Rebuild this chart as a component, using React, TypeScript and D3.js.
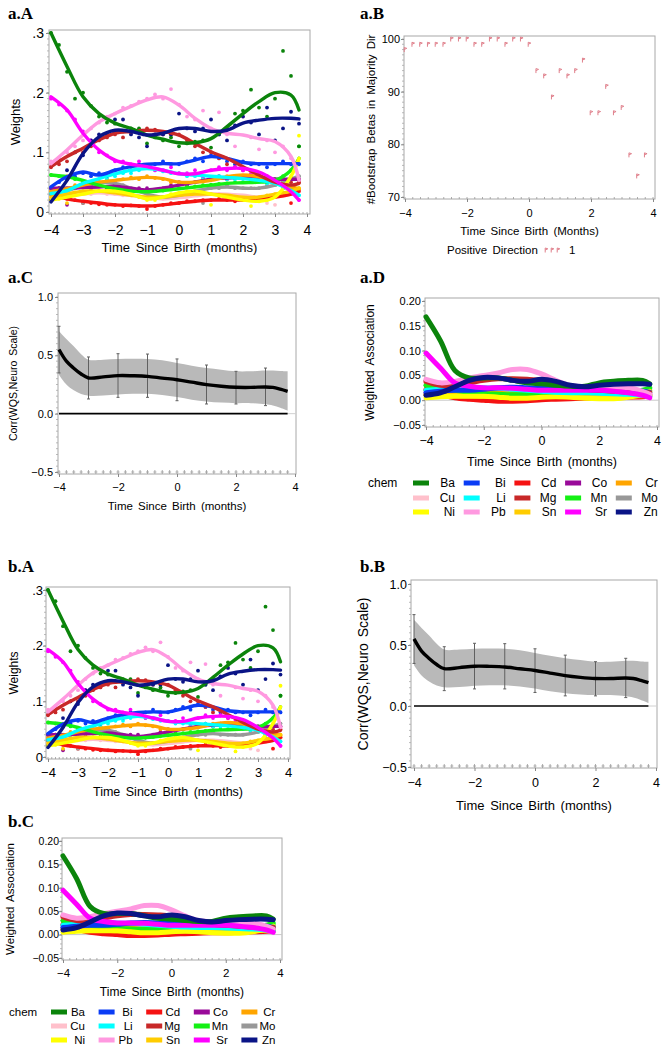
import React, { useEffect, useRef } from 'react';
import * as d3 from 'd3';

// chemicals, in legend order
const chems = ['Ba', 'Bi', 'Cd', 'Co', 'Cr', 'Cu', 'Li', 'Mg', 'Mn', 'Mo', 'Ni', 'Pb', 'Sn', 'Sr', 'Zn'];
const chemColors = ['#0b840b', '#0a3cf5', '#f51212', '#990a99', '#ffa500', '#ffc0cb', '#00ffff', '#c82828', '#14f014', '#989898', '#ffff00', '#ff99e0', '#ffcc00', '#ff00ff', '#0a1486'];
const drawOrder = ['Cu', 'Cd', 'Mo', 'Co', 'Cr', 'Sn', 'Mn', 'Ni', 'Li', 'Bi', 'Mg', 'Pb', 'Sr', 'Ba', 'Zn'];

// smooth-curve knots (months)
const knotTimes = [-4, -3.5, -3, -2.5, -2, -1.5, -1, -0.5, 0, 0.5, 1, 1.5, 2, 2.5, 3, 3.5, 3.75];
// sample times for the dots
const dotTimes = d3.range(-4, 4, 0.25);

const weightCurves = [
  [0.30, 0.244, 0.193, 0.165, 0.149, 0.14, 0.129, 0.122, 0.116, 0.116, 0.123, 0.143, 0.165, 0.185, 0.2, 0.196, 0.171],
  [0.042, 0.059, 0.067, 0.062, 0.07, 0.076, 0.08, 0.081, 0.081, 0.087, 0.093, 0.09, 0.083, 0.081, 0.081, 0.081, 0.081],
  [0.03, 0.022, 0.018, 0.015, 0.012, 0.011, 0.01, 0.012, 0.015, 0.018, 0.02, 0.02, 0.02, 0.022, 0.025, 0.03, 0.035],
  [0.04, 0.04, 0.041, 0.042, 0.043, 0.04, 0.037, 0.04, 0.045, 0.05, 0.055, 0.057, 0.058, 0.057, 0.055, 0.055, 0.055],
  [0.034, 0.039, 0.045, 0.05, 0.053, 0.056, 0.058, 0.056, 0.05, 0.05, 0.053, 0.059, 0.062, 0.059, 0.05, 0.042, 0.039],
  [0.025, 0.028, 0.03, 0.032, 0.03, 0.028, 0.025, 0.022, 0.024, 0.027, 0.03, 0.03, 0.028, 0.025, 0.025, 0.03, 0.035],
  [0.031, 0.036, 0.048, 0.056, 0.064, 0.07, 0.073, 0.07, 0.064, 0.062, 0.06, 0.058, 0.056, 0.053, 0.048, 0.036, 0.028],
  [0.076, 0.093, 0.107, 0.121, 0.132, 0.135, 0.137, 0.135, 0.129, 0.115, 0.101, 0.09, 0.076, 0.062, 0.05, 0.045, 0.048],
  [0.062, 0.059, 0.053, 0.045, 0.039, 0.035, 0.034, 0.036, 0.039, 0.042, 0.045, 0.048, 0.049, 0.05, 0.053, 0.07, 0.09],
  [0.03, 0.036, 0.044, 0.049, 0.048, 0.04, 0.03, 0.025, 0.028, 0.035, 0.04, 0.042, 0.04, 0.04, 0.045, 0.055, 0.06],
  [0.02, 0.025, 0.03, 0.035, 0.035, 0.03, 0.022, 0.025, 0.032, 0.035, 0.03, 0.025, 0.02, 0.018, 0.025, 0.06, 0.09],
  [0.081, 0.104, 0.129, 0.151, 0.165, 0.177, 0.188, 0.193, 0.179, 0.157, 0.14, 0.132, 0.129, 0.123, 0.118, 0.093, 0.053],
  [0.025, 0.03, 0.035, 0.035, 0.032, 0.028, 0.025, 0.025, 0.028, 0.03, 0.03, 0.028, 0.025, 0.025, 0.03, 0.035, 0.04],
  [0.193, 0.171, 0.132, 0.104, 0.087, 0.08, 0.076, 0.07, 0.064, 0.064, 0.07, 0.073, 0.073, 0.067, 0.053, 0.034, 0.02],
  [0.017, 0.053, 0.098, 0.126, 0.137, 0.135, 0.129, 0.132, 0.14, 0.14, 0.135, 0.137, 0.149, 0.154, 0.157, 0.157, 0.156],
];

const weightDots = [
  [0.30, 0.28, 0.235, 0.19, 0.20, 0.178, 0.16, 0.15, 0.148, 0.135, 0.14, 0.14, 0.115, 0.125, 0.12, 0.125, 0.11, 0.115, 0.118, 0.12, 0.108, 0.13, 0.14, 0.165, 0.17, 0.205, 0.175, 0.16, 0.19, 0.27, 0.228, 0.11],
  [0.04, 0.05, 0.055, 0.06, 0.065, 0.06, 0.065, 0.06, 0.07, 0.075, 0.07, 0.08, 0.075, 0.08, 0.085, 0.08, 0.08, 0.085, 0.09, 0.085, 0.095, 0.09, 0.085, 0.08, 0.085, 0.08, 0.08, 0.075, 0.08, 0.085, 0.08, 0.08],
  [0.03, 0.025, 0.022, 0.02, 0.015, 0.015, 0.013, 0.012, 0.012, 0.01, 0.011, 0.01, 0.005, 0.01, 0.012, 0.015, 0.015, 0.018, 0.018, 0.02, 0.02, 0.022, 0.02, 0.018, 0.02, 0.022, 0.022, 0.025, 0.025, 0.028, 0.015, 0.035],
  [0.04, 0.035, 0.012, 0.04, 0.045, 0.04, 0.045, 0.04, 0.045, 0.04, 0.035, 0.04, 0.04, 0.035, 0.04, 0.045, 0.05, 0.045, 0.05, 0.055, 0.055, 0.06, 0.055, 0.06, 0.058, 0.055, 0.055, 0.06, 0.055, 0.05, 0.055, 0.055],
  [0.035, 0.04, 0.06, 0.045, 0.045, 0.05, 0.05, 0.055, 0.052, 0.055, 0.058, 0.055, 0.06, 0.057, 0.055, 0.05, 0.05, 0.048, 0.05, 0.055, 0.055, 0.058, 0.06, 0.06, 0.06, 0.058, 0.055, 0.05, 0.045, 0.04, 0.04, 0.038],
  [0.025, 0.028, 0.03, 0.03, 0.032, 0.03, 0.033, 0.03, 0.03, 0.028, 0.028, 0.025, 0.025, 0.022, 0.022, 0.024, 0.025, 0.027, 0.028, 0.03, 0.03, 0.03, 0.028, 0.028, 0.025, 0.025, 0.025, 0.015, 0.012, 0.03, 0.035, 0.035],
  [0.03, 0.033, 0.035, 0.04, 0.045, 0.05, 0.05, 0.055, 0.06, 0.065, 0.065, 0.07, 0.075, 0.07, 0.068, 0.065, 0.065, 0.06, 0.06, 0.058, 0.055, 0.06, 0.055, 0.055, 0.05, 0.052, 0.05, 0.048, 0.045, 0.04, 0.03, 0.028],
  [0.075, 0.08, 0.085, 0.1, 0.1, 0.11, 0.12, 0.125, 0.13, 0.125, 0.133, 0.138, 0.14, 0.138, 0.13, 0.13, 0.13, 0.12, 0.11, 0.1, 0.1, 0.09, 0.08, 0.075, 0.07, 0.06, 0.065, 0.055, 0.05, 0.045, 0.05, 0.05],
  [0.062, 0.06, 0.058, 0.055, 0.05, 0.048, 0.045, 0.042, 0.04, 0.038, 0.035, 0.035, 0.033, 0.035, 0.036, 0.038, 0.04, 0.042, 0.043, 0.045, 0.046, 0.047, 0.048, 0.05, 0.05, 0.052, 0.052, 0.055, 0.055, 0.06, 0.07, 0.11],
  [0.03, 0.035, 0.04, 0.04, 0.015, 0.045, 0.05, 0.05, 0.045, 0.045, 0.04, 0.035, 0.03, 0.025, 0.025, 0.028, 0.03, 0.03, 0.035, 0.015, 0.04, 0.04, 0.045, 0.04, 0.04, 0.04, 0.04, 0.045, 0.05, 0.05, 0.055, 0.06],
  [0.02, 0.022, 0.025, 0.028, 0.03, 0.033, 0.035, 0.035, 0.035, 0.032, 0.03, 0.025, 0.02, 0.02, 0.025, 0.03, 0.032, 0.035, 0.035, 0.032, 0.012, 0.028, 0.025, 0.022, 0.02, 0.01, 0.018, 0.02, 0.025, 0.04, 0.06, 0.128],
  [0.085, 0.09, 0.1, 0.11, 0.12, 0.14, 0.15, 0.16, 0.165, 0.175, 0.178, 0.185, 0.19, 0.197, 0.19, 0.206, 0.18, 0.16, 0.155, 0.17, 0.14, 0.167, 0.13, 0.11, 0.16, 0.125, 0.105, 0.12, 0.1, 0.11, 0.09, 0.055],
  [0.025, 0.028, 0.015, 0.033, 0.035, 0.035, 0.035, 0.033, 0.032, 0.03, 0.028, 0.026, 0.025, 0.025, 0.025, 0.026, 0.028, 0.03, 0.03, 0.03, 0.03, 0.028, 0.027, 0.025, 0.025, 0.025, 0.025, 0.028, 0.03, 0.033, 0.035, 0.04],
  [0.19, 0.18, 0.17, 0.155, 0.135, 0.12, 0.1, 0.095, 0.085, 0.085, 0.08, 0.085, 0.075, 0.07, 0.07, 0.075, 0.065, 0.065, 0.07, 0.06, 0.07, 0.075, 0.07, 0.075, 0.07, 0.065, 0.06, 0.055, 0.05, 0.04, 0.03, 0.02],
  [0.02, 0.04, 0.07, 0.1, 0.095, 0.12, 0.13, 0.13, 0.155, 0.155, 0.13, 0.125, 0.11, 0.13, 0.13, 0.13, 0.165, 0.14, 0.135, 0.14, 0.155, 0.13, 0.12, 0.145, 0.16, 0.15, 0.13, 0.175, 0.12, 0.14, 0.168, 0.148],
];

const assocCurves = [
  [0.168, 0.12, 0.06, 0.045, 0.045, 0.045, 0.04, 0.035, 0.033, 0.03, 0.028, 0.028, 0.035, 0.038, 0.04, 0.04, 0.033],
  [0.015, 0.018, 0.02, 0.02, 0.022, 0.025, 0.026, 0.025, 0.024, 0.023, 0.023, 0.022, 0.02, 0.02, 0.02, 0.018, 0.016],
  [0.022, 0.012, 0.005, 0.002, 0.0, -0.002, -0.002, -0.001, 0.001, 0.002, 0.003, 0.004, 0.004, 0.005, 0.006, 0.007, 0.008],
  [0.015, 0.014, 0.013, 0.012, 0.012, 0.011, 0.01, 0.01, 0.011, 0.012, 0.012, 0.012, 0.012, 0.012, 0.012, 0.012, 0.012],
  [0.012, 0.013, 0.014, 0.015, 0.016, 0.016, 0.016, 0.015, 0.014, 0.014, 0.015, 0.015, 0.015, 0.013, 0.012, 0.011, 0.01],
  [0.035, 0.03, 0.028, 0.025, 0.022, 0.02, 0.018, 0.016, 0.015, 0.015, 0.015, 0.015, 0.014, 0.014, 0.013, 0.012, 0.012],
  [0.02, 0.022, 0.025, 0.025, 0.025, 0.024, 0.022, 0.02, 0.018, 0.016, 0.015, 0.015, 0.014, 0.013, 0.012, 0.01, 0.008],
  [0.038, 0.03, 0.03, 0.035, 0.04, 0.043, 0.043, 0.042, 0.04, 0.035, 0.028, 0.022, 0.02, 0.018, 0.016, 0.015, 0.015],
  [0.03, 0.025, 0.02, 0.016, 0.013, 0.012, 0.011, 0.012, 0.013, 0.014, 0.015, 0.016, 0.016, 0.017, 0.018, 0.02, 0.025],
  [0.02, 0.02, 0.022, 0.02, 0.015, 0.012, 0.01, 0.01, 0.011, 0.012, 0.012, 0.012, 0.012, 0.012, 0.013, 0.016, 0.02],
  [0.005, 0.007, 0.008, 0.008, 0.008, 0.006, 0.004, 0.004, 0.006, 0.007, 0.006, 0.004, 0.003, 0.003, 0.006, 0.012, 0.018],
  [0.042, 0.035, 0.038, 0.045, 0.05, 0.055, 0.062, 0.062, 0.053, 0.04, 0.03, 0.027, 0.027, 0.026, 0.025, 0.018, 0.012],
  [0.01, 0.01, 0.009, 0.009, 0.008, 0.008, 0.008, 0.008, 0.008, 0.008, 0.008, 0.008, 0.008, 0.008, 0.009, 0.009, 0.01],
  [0.095, 0.065, 0.035, 0.028, 0.025, 0.025, 0.024, 0.022, 0.02, 0.02, 0.02, 0.02, 0.02, 0.018, 0.015, 0.01, 0.005],
  [0.01, 0.015, 0.027, 0.04, 0.046, 0.045, 0.04, 0.038, 0.042, 0.038, 0.03, 0.027, 0.03, 0.032, 0.033, 0.033, 0.032],
];

// bootstrap betas in majority (positive) direction, one per dotTimes entry
const bootCounts = [98, 99, 99, 99, 99, 99, 100, 100, 100, 99, 99, 100, 100, 99, 100, 100, 99, 94, 93, 89, 94, 93, 94, 96, 86, 86, 91, 86, 87, 78, 74, 78];

// correlation of WQS index with neuro scale
const corrTimes = [-4, -3.75, -3.5, -3.25, -3, -2.5, -2, -1.5, -1, -0.5, 0, 0.5, 1, 1.5, 2, 2.5, 3, 3.25, 3.5, 3.75];
const corrMean = [0.55, 0.45, 0.39, 0.34, 0.306, 0.315, 0.326, 0.325, 0.32, 0.305, 0.291, 0.27, 0.249, 0.235, 0.226, 0.225, 0.229, 0.225, 0.21, 0.191];
const corrUpper = [0.706, 0.64, 0.577, 0.51, 0.463, 0.463, 0.469, 0.471, 0.469, 0.457, 0.434, 0.411, 0.391, 0.377, 0.363, 0.363, 0.37, 0.37, 0.365, 0.363];
const corrLower = [0.334, 0.25, 0.2, 0.168, 0.154, 0.155, 0.165, 0.17, 0.17, 0.16, 0.143, 0.12, 0.105, 0.095, 0.09, 0.09, 0.08, 0.07, 0.05, 0.025];
const errTimes = [-4, -3, -2, -1, 0, 1, 2, 3];
const errHigh = [0.749, 0.486, 0.514, 0.511, 0.469, 0.417, 0.363, 0.391];
const errLow = [0.349, 0.126, 0.14, 0.14, 0.111, 0.083, 0.083, 0.069];

const SANS = "'Liberation Sans', Arial, Helvetica, sans-serif";
const SERIF = "'Liberation Serif', 'Times New Roman', serif";

function panelTitle(svg, text, x, y) {
  svg.append('text').attr('x', x).attr('y', y)
    .attr('font-family', SERIF).attr('font-weight', 'bold').attr('font-size', 17)
    .text(text);
}

function frameBox(g, f) {
  g.append('rect')
    .attr('x', f[0]).attr('y', f[2])
    .attr('width', f[1] - f[0]).attr('height', f[3] - f[2])
    .attr('fill', 'none').attr('stroke', '#a8a8a8');
}

function bottomAxis(g, x, yPos, ticks, fmt, baseline, fs) {
  const a = g.append('g').attr('transform', `translate(0,${yPos})`)
    .call(d3.axisBottom(x).tickValues(ticks).tickSize(3).tickFormat(fmt));
  a.attr('font-family', SANS).attr('font-size', fs);
  a.select('.domain').remove();
  a.selectAll('.tick line').attr('stroke', '#888');
  a.selectAll('.tick text').attr('y', baseline - yPos).attr('dy', null).attr('fill', '#000');
}

function leftAxis(g, y, xPos, ticks, fmt, right, fs) {
  const a = g.append('g').attr('transform', `translate(${xPos},0)`)
    .call(d3.axisLeft(y).tickValues(ticks).tickSize(3).tickFormat(fmt));
  a.attr('font-family', SANS).attr('font-size', fs);
  a.select('.domain').remove();
  a.selectAll('.tick line').attr('stroke', '#888');
  a.selectAll('.tick text').attr('x', right - xPos).attr('fill', '#000');
}

function minorX(g, x, yPos, vals, len) {
  g.selectAll(null).data(vals).enter().append('line')
    .attr('x1', (d) => x(d)).attr('x2', (d) => x(d))
    .attr('y1', yPos).attr('y2', yPos - len)
    .attr('stroke', '#999').attr('stroke-width', 0.8);
}

function minorY(g, y, xPos, vals, len) {
  g.selectAll(null).data(vals).enter().append('line')
    .attr('x1', xPos).attr('x2', xPos - len)
    .attr('y1', (d) => y(d)).attr('y2', (d) => y(d))
    .attr('stroke', '#aaa').attr('stroke-width', 0.8);
}

function titleX(g, text, cx, baseline, fs) {
  g.append('text').attr('x', cx).attr('y', baseline).attr('text-anchor', 'middle')
    .attr('font-family', SANS).attr('font-size', fs).attr('word-spacing', 2).text(text);
}

function titleY(g, text, cx, cy, fs) {
  g.append('text').attr('transform', `translate(${cx},${cy}) rotate(-90)`)
    .attr('text-anchor', 'middle').attr('dy', '0.35em')
    .attr('font-family', SANS).attr('font-size', fs).attr('word-spacing', 2).text(text);
}

function drawWeights(svg, p) {
  const x = d3.scaleLinear().domain([-4, 4]).range(p.xr);
  const y = d3.scaleLinear().domain([0, 0.3]).range(p.yr);
  const g = svg.append('g');
  frameBox(g, p.f);
  minorX(g, x, p.f[3], d3.range(-4, 4.01, 0.125), 2);
  minorY(g, y, p.f[0], d3.range(0, 0.301, 0.01), 2);

  drawOrder.forEach((name) => {
    const i = chems.indexOf(name);
    g.append('g').selectAll('circle').data(weightDots[i]).enter().append('circle')
      .attr('cx', (d, j) => x(dotTimes[j])).attr('cy', (d) => y(d))
      .attr('r', 1.9).attr('fill', chemColors[i]);
  });
  const line = d3.line().x((d, j) => x(knotTimes[j])).y((d) => y(d)).curve(d3.curveCatmullRom.alpha(0.5));
  drawOrder.forEach((name) => {
    const i = chems.indexOf(name);
    g.append('path').attr('d', line(weightCurves[i])).attr('fill', 'none')
      .attr('stroke', chemColors[i]).attr('stroke-width', 3.4).attr('stroke-linecap', 'round');
  });

  bottomAxis(g, x, p.f[3], d3.range(-4, 5, 1), d3.format('d'), p.tickBase, p.tickFs);
  leftAxis(g, y, p.f[0], [0, 0.1, 0.2, 0.3], (d) => (d === 0 ? '0' : '.' + Math.round(d * 10)), p.yRight, p.tickFs);
  titleX(g, 'Time Since Birth (months)', (p.f[0] + p.f[1]) / 2, p.titleBase, p.titleFs);
  titleY(g, 'Weights', p.yTitleX, (p.f[2] + p.f[3]) / 2, p.yTitleFs);
}

function drawAssoc(svg, p) {
  const x = d3.scaleLinear().domain([-4, 4]).range(p.xr);
  const y = d3.scaleLinear().domain([-0.05, 0.2]).range(p.yr);
  const g = svg.append('g');
  frameBox(g, p.f);
  minorX(g, x, p.f[3], d3.range(-4, 4.01, 0.25), 2);
  minorY(g, y, p.f[0], d3.range(-0.05, 0.201, 0.01), 2);
  g.append('line').attr('x1', p.f[0]).attr('x2', p.f[1]).attr('y1', y(0)).attr('y2', y(0))
    .attr('stroke', '#c8c8c8').attr('stroke-width', 1);

  const line = d3.line().x((d, j) => x(knotTimes[j])).y((d) => y(d)).curve(d3.curveCatmullRom.alpha(0.5));
  drawOrder.forEach((name) => {
    const i = chems.indexOf(name);
    g.append('path').attr('d', line(assocCurves[i])).attr('fill', 'none')
      .attr('stroke', chemColors[i]).attr('stroke-width', p.lw).attr('stroke-linecap', 'round');
  });

  bottomAxis(g, x, p.f[3], [-4, -2, 0, 2, 4], d3.format('d'), p.tickBase, p.xTickFs);
  leftAxis(g, y, p.f[0], [-0.05, 0, 0.05, 0.1, 0.15, 0.2], d3.format('.2f'), p.yRight, p.yTickFs);
  titleX(g, 'Time Since Birth (months)', (p.f[0] + p.f[1]) / 2, p.titleBase, p.titleFs);
  titleY(g, 'Weighted Association', p.yTitleX, (p.f[2] + p.f[3]) / 2, p.yTitleFs);

  // legend
  const lg = g.append('g').attr('font-family', SANS).attr('font-size', p.legFs);
  lg.append('text').attr('x', p.leg.chemX).attr('y', p.leg.rows[0] + 4).text('chem');
  chems.forEach((name, i) => {
    const row = Math.floor(i / 5);
    const col = i % 5;
    const cy = p.leg.rows[row];
    lg.append('rect').attr('x', p.leg.swX + col * p.leg.step).attr('y', cy - 2.5)
      .attr('width', 16).attr('height', 5).attr('fill', chemColors[i]);
    lg.append('text').attr('x', p.leg.labR + col * p.leg.step).attr('y', cy + 4)
      .attr('text-anchor', 'end').text(name);
  });
}

function drawCorr(svg, p) {
  const x = d3.scaleLinear().domain([-4, 4]).range(p.xr);
  const y = d3.scaleLinear().domain([-0.5, 1]).range(p.yr);
  const g = svg.append('g');
  frameBox(g, p.f);
  minorY(g, y, p.f[0], d3.range(-0.5, 1.01, 0.05), 2);

  const area = d3.area().x((d, j) => x(corrTimes[j])).y0((d, j) => y(corrLower[j])).y1((d) => y(d))
    .curve(d3.curveCatmullRom.alpha(0.5));
  g.append('path').attr('d', area(corrUpper)).attr('fill', '#b9b9b9');

  g.append('line').attr('x1', x(3.75)).attr('x2', p.f[1]).attr('y1', y(0)).attr('y2', y(0))
    .attr('stroke', '#d0d0d0');
  g.append('line').attr('x1', x(-4)).attr('x2', x(3.75)).attr('y1', y(0)).attr('y2', y(0))
    .attr('stroke', '#000').attr('stroke-width', 1.6);

  errTimes.forEach((t, k) => {
    const cx = x(t);
    g.append('line').attr('x1', cx).attr('x2', cx).attr('y1', y(errLow[k])).attr('y2', y(errHigh[k]))
      .attr('stroke', '#606060').attr('stroke-width', 1);
    [errLow[k], errHigh[k]].forEach((v) => {
      g.append('line').attr('x1', cx - 1.5).attr('x2', cx + 1.5).attr('y1', y(v)).attr('y2', y(v))
        .attr('stroke', '#606060').attr('stroke-width', 1);
    });
  });

  const line = d3.line().x((d, j) => x(corrTimes[j])).y((d) => y(d)).curve(d3.curveCatmullRom.alpha(0.5));
  g.append('path').attr('d', line(corrMean)).attr('fill', 'none').attr('stroke', '#000').attr('stroke-width', 3.4);

  // small inner ticks along the bottom
  const bt = d3.range(-4, 3.76, 0.25);
  minorX(g, x, p.f[3], bt, 4);
  g.selectAll(null).data(bt).enter().append('line')
    .attr('x1', (d) => x(d) - 1.5).attr('x2', (d) => x(d) + 1.5)
    .attr('y1', p.f[3] - 2).attr('y2', p.f[3] - 2)
    .attr('stroke', '#999').attr('stroke-width', 0.8);

  bottomAxis(g, x, p.f[3], [-4, -2, 0, 2, 4], d3.format('d'), p.tickBase, p.tickFs);
  leftAxis(g, y, p.f[0], [-0.5, 0, 0.5, 1], d3.format('.1f'), p.yRight, p.tickFs);
  titleX(g, 'Time Since Birth (months)', (p.f[0] + p.f[1]) / 2, p.titleBase, p.titleFs);
  titleY(g, 'Corr(WQS,Neuro Scale)', p.yTitleX, (p.f[2] + p.f[3]) / 2, p.yTitleFs);
}

function flagMark(g, cx, cy) {
  g.append('path').attr('d', `M${cx - 0.8},${cy + 2.5}L${cx - 0.8},${cy - 2}L${cx + 1.8},${cy - 1.2}L${cx - 0.8},${cy}`)
    .attr('fill', 'none').attr('stroke', '#e0808c').attr('stroke-width', 1);
}

function drawBoot(svg, p) {
  const x = d3.scaleLinear().domain([-4, 4]).range(p.xr);
  const y = d3.scaleLinear().domain([70, 100]).range(p.yr);
  const g = svg.append('g');
  frameBox(g, p.f);
  minorX(g, x, p.f[3], d3.range(-4, 4.01, 0.25), 2);
  minorY(g, y, p.f[0], d3.range(70, 100.1, 1), 2);

  bootCounts.forEach((v, j) => flagMark(g, x(dotTimes[j]), y(v)));

  bottomAxis(g, x, p.f[3], [-4, -2, 0, 2, 4], d3.format('d'), p.tickBase, p.tickFs);
  leftAxis(g, y, p.f[0], [70, 80, 90, 100], d3.format('d'), p.yRight, p.tickFs);
  titleX(g, 'Time Since Birth (Months)', (p.f[0] + p.f[1]) / 2, p.titleBase, p.titleFs);
  titleY(g, '#Bootstrap Betas in Majority Dir', p.yTitleX, (p.f[2] + p.f[3]) / 2 + 2, p.titleFs);

  const lg = g.append('g').attr('font-family', SANS).attr('font-size', p.titleFs);
  lg.append('text').attr('x', 447).attr('y', p.legBase).attr('word-spacing', 2).text('Positive Direction');
  [546, 552, 558].forEach((mx) => flagMark(lg, mx, p.legBase - 4));
  lg.append('text').attr('x', 569).attr('y', p.legBase).text('1');
}

export default function App() {
  const ref = useRef(null);

  useEffect(() => {
    const svg = d3.select(ref.current);
    svg.selectAll('*').remove();

    panelTitle(svg, 'a.A', 8, 19);
    drawWeights(svg, {
      xr: [51, 307], yr: [212, 33], f: [49, 310, 30, 214],
      tickFs: 14, tickBase: 235, titleFs: 13, titleBase: 252,
      yRight: 44, yTitleX: 15, yTitleFs: 13,
    });

    panelTitle(svg, 'a.B', 360, 19);
    drawBoot(svg, {
      xr: [405, 653], yr: [197, 39], f: [404, 655, 36, 199],
      tickFs: 11, tickBase: 217, titleFs: 11.5, titleBase: 235,
      yRight: 400, yTitleX: 371, legBase: 254,
    });

    panelTitle(svg, 'a.C', 8, 283);
    drawCorr(svg, {
      xr: [59, 295], yr: [472, 297], f: [58, 296, 293, 474],
      tickFs: 11, tickBase: 491, titleFs: 11.5, titleBase: 510,
      yRight: 53, yTitleX: 13, yTitleFs: 10.5,
    });

    panelTitle(svg, 'a.D', 360, 283);
    drawAssoc(svg, {
      xr: [426, 657], yr: [425, 301], f: [425, 659, 298, 427],
      xTickFs: 12.5, yTickFs: 11, tickBase: 445, titleFs: 12.5, titleBase: 466,
      yRight: 421, yTitleX: 370, yTitleFs: 12, legFs: 12, lw: 5,
      leg: { chemX: 368, swX: 413, labR: 455, step: 50.7, rows: [483, 498, 512] },
    });

    panelTitle(svg, 'b.A', 8, 572);
    drawWeights(svg, {
      xr: [48, 288], yr: [757, 590], f: [46, 290, 587, 759],
      tickFs: 13, tickBase: 777, titleFs: 12.5, titleBase: 796,
      yRight: 43, yTitleX: 14, yTitleFs: 12,
    });

    panelTitle(svg, 'b.B', 360, 572);
    drawCorr(svg, {
      xr: [414, 656], yr: [767, 584], f: [411, 657, 580, 768],
      tickFs: 12.5, tickBase: 787, titleFs: 13, titleBase: 810,
      yRight: 407, yTitleX: 363, yTitleFs: 14,
    });

    panelTitle(svg, 'b.C', 8, 827);
    drawAssoc(svg, {
      xr: [63, 280], yr: [958, 841], f: [62, 282, 838, 960],
      xTickFs: 11.5, yTickFs: 10.5, tickBase: 977, titleFs: 12, titleBase: 996,
      yRight: 59, yTitleX: 10, yTitleFs: 11.5, legFs: 11.5, lw: 5,
      leg: { chemX: 9, swX: 51, labR: 85, step: 47.6, rows: [1012, 1026, 1040] },
    });
  }, []);

  return (
    <svg
      ref={ref}
      width={665}
      height={1050}
      style={{ position: 'absolute', left: 0, top: 0, background: '#fff' }}
    />
  );
}
